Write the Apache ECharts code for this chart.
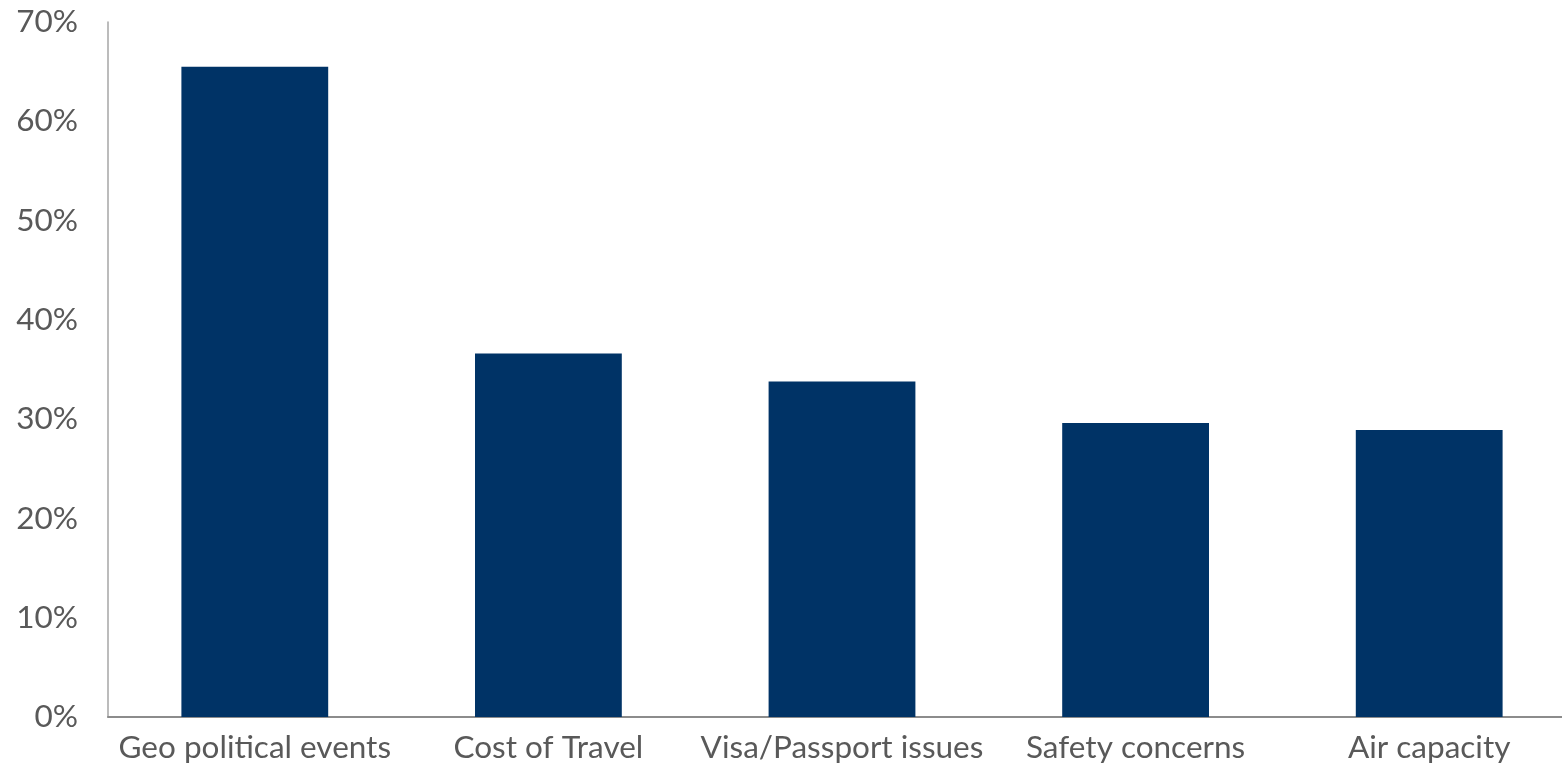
<!DOCTYPE html>
<html>
<head>
<meta charset="utf-8">
<script src="https://cdn.jsdelivr.net/npm/echarts@6/dist/echarts.min.js"></script>
<style>
  html, body { margin: 0; padding: 0; background: #fff; }
  #chart { width: 1562px; height: 769px; }
</style>
</head>
<body>
<div id="chart"></div>
<script>
// Share of respondents citing each factor (%)
const categories = ['Geo political events', 'Cost of Travel', 'Visa/Passport issues', 'Safety concerns', 'Air capacity'];
const shares = [65.5, 36.6, 33.8, 29.6, 28.9];
const yTicks = { min: 0, max: 70, interval: 10 };

const chart = echarts.init(document.getElementById('chart'));
chart.setOption({
  animation: false,
  textStyle: { fontFamily: 'Lato' },
  // plot area runs slightly past the right edge of the canvas
  grid: { left: 108, width: 1468, top: 22, height: 695, containLabel: false, outerBoundsMode: 'none' },
  xAxis: {
    type: 'category',
    data: categories,
    axisLine: { show: true, lineStyle: { color: '#8c8c8c', width: 2 } },
    axisTick: { show: false },
    axisLabel: { color: '#595959', fontSize: 31.5, margin: 15, interval: 0, fontFamily: 'Lato' }
  },
  yAxis: {
    type: 'value',
    min: yTicks.min,
    max: yTicks.max,
    interval: yTicks.interval,
    axisLine: { show: true, lineStyle: { color: '#a6a6a6', width: 1.5 } },
    axisTick: { show: false },
    splitLine: { show: false },
    axisLabel: { color: '#595959', fontSize: 31.5, margin: 30, fontFamily: 'Lato', formatter: '{value}%' }
  },
  series: [{
    type: 'bar',
    data: shares,
    barWidth: '50%',
    itemStyle: { color: '#003366' }
  }]
});
</script>
</body>
</html>
